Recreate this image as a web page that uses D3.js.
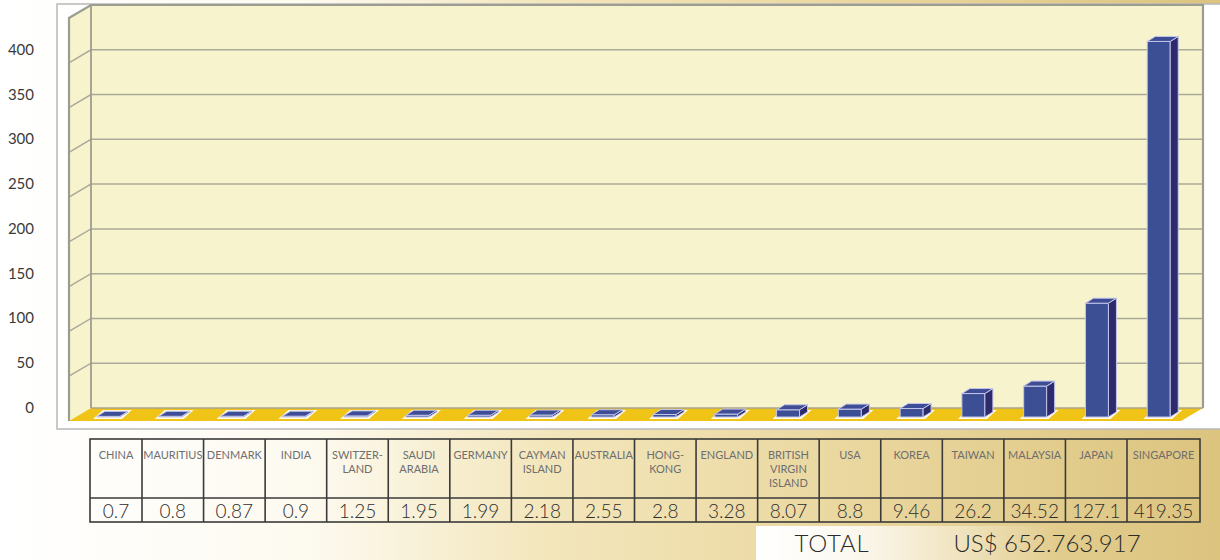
<!DOCTYPE html>
<html>
<head>
<meta charset="utf-8">
<script src="https://cdn.jsdelivr.net/npm/d3@7"></script>
<style>
  html, body { margin: 0; padding: 0; background: #fff; }
  svg { display: block; }
</style>
</head>
<body>
<svg id="chart" width="1220" height="560"></svg>
<script>
// Investment by country of origin (US$ million)
const countries = ["CHINA", "MAURITIUS", "DENMARK", "INDIA", "SWITZER-\nLAND", "SAUDI\nARABIA",
  "GERMANY", "CAYMAN\nISLAND", "AUSTRALIA", "HONG-\nKONG", "ENGLAND", "BRITISH\nVIRGIN\nISLAND",
  "USA", "KOREA", "TAIWAN", "MALAYSIA", "JAPAN", "SINGAPORE"];
const values = [0.7, 0.8, 0.87, 0.9, 1.25, 1.95, 1.99, 2.18, 2.55, 2.8, 3.28, 8.07, 8.8, 9.46, 26.2, 34.52, 127.1, 419.35];
const yTicks = [0, 50, 100, 150, 200, 250, 300, 350, 400];
const totalLabel = "TOTAL";
const totalValue = "US$ 652.763.917";

const svg = d3.select("#chart");
const W = 1220, H = 560;
const font = "Lato, 'Open Sans', sans-serif";

// ---------- background ----------
const defs = svg.append("defs");
const bg = defs.append("linearGradient").attr("id", "bg").attr("x1", 0).attr("x2", 1).attr("y1", 0).attr("y2", 0);
[[0, "#ffffff"], [0.25, "#fdfaf0"], [0.45, "#f3e6bb"], [0.7, "#ead79f"], [1, "#dcc47f"]]
  .forEach(([o, c]) => bg.append("stop").attr("offset", o).attr("stop-color", c));
const glow = defs.append("linearGradient").attr("id", "glow").attr("x1", 0).attr("x2", 1).attr("y1", 0).attr("y2", 0);
[[0, "#ffffff", 1], [0.3, "#ffffff", 0.85], [1, "#ffffff", 0]]
  .forEach(([o, c, a]) => glow.append("stop").attr("offset", o).attr("stop-color", c).attr("stop-opacity", a));

svg.append("rect").attr("width", W).attr("height", H).attr("fill", "url(#bg)");
svg.append("rect").attr("x", 756).attr("y", 526).attr("width", 300).attr("height", 34).attr("fill", "url(#glow)");

// ---------- 3D plot frame ----------
const back = { left: 91, right: 1203 };
const depth = { dx: -22, dy: 13 };          // offset from back wall to front edge of floor
const y = d3.scaleLinear().domain([0, 450]).range([408, 5]);
const x = d3.scaleBand().domain(d3.range(countries.length)).range([back.left, back.right]).padding(0);

// white panel behind the chart
svg.append("rect").attr("x", 57).attr("y", 4).attr("width", 1170).attr("height", 425)
  .attr("fill", "#ffffff").attr("stroke", "#b8b8b8").attr("stroke-width", 1.5);

const wallFill = "#f7f4cd", wallStroke = "#9c9c90", gridStroke = "#aaa99a";
const line = d3.line();

// back wall
svg.append("rect").attr("x", back.left).attr("y", y(450)).attr("width", back.right - back.left)
  .attr("height", y(0) - y(450)).attr("fill", wallFill);

// left side wall
svg.append("path")
  .attr("d", line([[back.left, y(0)], [back.left, y(450)], [back.left + depth.dx, y(450) + depth.dy], [back.left + depth.dx, y(0) + depth.dy]]) + "Z")
  .attr("fill", wallFill);

// gridlines on back and side walls
const grid = svg.append("g");
yTicks.filter(t => t > 0).forEach(t => {
  grid.append("path").attr("d", line([[back.left + depth.dx, y(t) + depth.dy], [back.left, y(t)], [back.right, y(t)]]))
    .attr("fill", "none").attr("stroke", gridStroke).attr("stroke-width", 1.5);
});

// wall outlines
svg.append("path")
  .attr("d", line([[back.left + depth.dx, y(0) + depth.dy], [back.left + depth.dx, y(450) + depth.dy], [back.left, y(450)], [back.right, y(450)], [back.right, y(0)]]))
  .attr("fill", "none").attr("stroke", wallStroke).attr("stroke-width", 2.2);
svg.append("path").attr("d", line([[back.left, y(450)], [back.left, y(0)]]))
  .attr("fill", "none").attr("stroke", wallStroke).attr("stroke-width", 1.8);

// floor
svg.append("path")
  .attr("d", line([[back.left, y(0)], [back.right, y(0)], [back.right + depth.dx, y(0) + depth.dy], [back.left + depth.dx, y(0) + depth.dy]]) + "Z")
  .attr("fill", "#efc417");
svg.append("path").attr("d", line([[back.left, y(0)], [back.right, y(0)]]))
  .attr("stroke", "#a8a48a").attr("stroke-width", 1.5);

// y axis labels
svg.append("g").selectAll("text").data(yTicks).join("text")
  .attr("x", 34).attr("y", d => y(d) + 5)
  .attr("text-anchor", "end")
  .attr("font-family", font).attr("font-size", 15)
  .attr("fill", "#3a3a3a")
  .text(d => d);

// ---------- bars ----------
const barW = 23, barInset = 21;
const barFront = { dx: -15, dy: 9 };   // bar front plane offset from back wall
const barDepth = { dx: 8, dy: -5 };    // bar depth (front face to back face)

const bars = svg.append("g");
values.forEach((v, i) => {
  const x0 = x(i) + barInset + barFront.dx;
  const x1 = x0 + barW;
  const yb = y(0) + barFront.dy;
  const yt = y(v) + barFront.dy;
  const g = bars.append("g");
  // light footprint on the floor
  g.append("path")
    .attr("d", line([[x0 - 4, yb + 2], [x1 + 2, yb + 2], [x1 + barDepth.dx + 4, yb + barDepth.dy - 2], [x0 + barDepth.dx - 2, yb + barDepth.dy - 2]]) + "Z")
    .attr("fill", "#fffbea");
  // front face
  g.append("rect").attr("x", x0).attr("y", yt).attr("width", barW).attr("height", Math.max(0, yb - yt))
    .attr("fill", "#3c4e94").attr("stroke", "#c3c6ea").attr("stroke-width", 1);
  // side face
  g.append("path")
    .attr("d", line([[x1, yb], [x1, yt], [x1 + barDepth.dx, yt + barDepth.dy], [x1 + barDepth.dx, yb + barDepth.dy]]) + "Z")
    .attr("fill", "#2e2b6c").attr("stroke", "#c3c6ea").attr("stroke-width", 1);
  // top face
  g.append("path")
    .attr("d", line([[x0, yt], [x1, yt], [x1 + barDepth.dx, yt + barDepth.dy], [x0 + barDepth.dx, yt + barDepth.dy]]) + "Z")
    .attr("fill", "#3e4d95").attr("stroke", "#c3c6ea").attr("stroke-width", 1);
});

// ---------- data table ----------
const table = { left: 90, right: 1200, top: 439, mid: 498, bottom: 522 };
const firstW = 52, lastW = 73;
const inner = d3.scaleBand().domain(d3.range(1, countries.length - 1))
  .range([table.left + firstW, table.right - lastW]).padding(0);
const colLeft = i => i === 0 ? table.left : (i === countries.length - 1 ? table.right - lastW : inner(i));
const colRight = i => i === 0 ? table.left + firstW : (i === countries.length - 1 ? table.right : inner(i) + inner.bandwidth());
const colMid = i => (colLeft(i) + colRight(i)) / 2;

const tg = svg.append("g");
const tStroke = "#3a3a3a";
tg.append("rect").attr("x", table.left).attr("y", table.top)
  .attr("width", table.right - table.left).attr("height", table.bottom - table.top)
  .attr("fill", "none").attr("stroke", tStroke).attr("stroke-width", 1.6);
tg.append("line").attr("x1", table.left).attr("x2", table.right).attr("y1", table.mid).attr("y2", table.mid)
  .attr("stroke", tStroke).attr("stroke-width", 1.6);
d3.range(1, countries.length).forEach(i => {
  tg.append("line").attr("x1", colLeft(i)).attr("x2", colLeft(i)).attr("y1", table.top).attr("y2", table.bottom)
    .attr("stroke", tStroke).attr("stroke-width", 1.6);
});

// country names
countries.forEach((name, i) => {
  const t = tg.append("text")
    .attr("text-anchor", "middle")
    .attr("font-family", font).attr("font-size", 11)
    .attr("fill", "#6e6e6e");
  name.split("\n").forEach((ln, k) => {
    t.append("tspan").attr("x", colMid(i)).attr("y", 459 + k * 14).text(ln);
  });
  const w = t.node().getBBox().width;
  const cw = colRight(i) - colLeft(i) - 1;
  if (w > cw) t.selectAll("tspan").attr("textLength", function () {
    return Math.min(cw, this.getComputedTextLength());
  }).attr("lengthAdjust", "spacingAndGlyphs");
});

// values
tg.selectAll("text.val").data(values).join("text")
  .attr("class", "val")
  .attr("x", (d, i) => colMid(i)).attr("y", 518)
  .attr("text-anchor", "middle")
  .attr("font-family", font).attr("font-size", 19).attr("font-weight", 300)
  .attr("fill", "#2e2e2e")
  .text(d => String(d));

// total
svg.append("text").attr("x", 832).attr("y", 552).attr("text-anchor", "middle")
  .attr("font-family", font).attr("font-size", 24).attr("font-weight", 300)
  .attr("letter-spacing", 0.8).attr("fill", "#2a2a2a").text(totalLabel);
svg.append("text").attr("x", 1047).attr("y", 552).attr("text-anchor", "middle")
  .attr("font-family", font).attr("font-size", 24).attr("font-weight", 300)
  .attr("fill", "#2a2a2a").text(totalValue);
</script>
</body>
</html>
